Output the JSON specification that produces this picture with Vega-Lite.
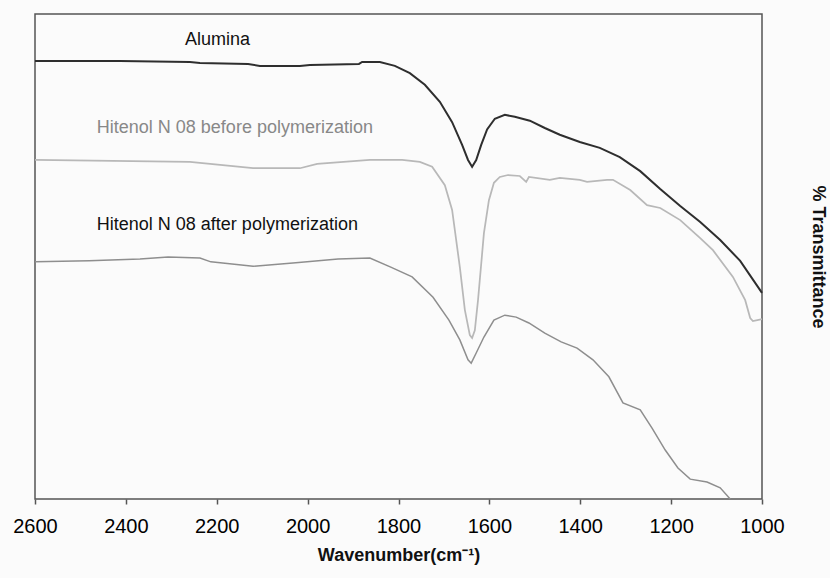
{
  "$schema": "https://vega.github.io/schema/vega-lite/v6.json",
  "width": 727,
  "height": 485,
  "autosize": {"type": "none"},
  "padding": {"left": 35, "top": 14, "right": 68, "bottom": 79},
  "background": "#fbfbfb",
  "config": {
    "font": "Liberation Sans",
    "view": {"stroke": "#555555", "strokeWidth": 1.5}
  },
  "datasets": {
    "spectra": [
      {"series": "Alumina", "wn": 2600, "T": 90.3},
      {"series": "Alumina", "wn": 2413, "T": 90.3},
      {"series": "Alumina", "wn": 2259, "T": 90.1},
      {"series": "Alumina", "wn": 2237, "T": 89.9},
      {"series": "Alumina", "wn": 2131, "T": 89.7},
      {"series": "Alumina", "wn": 2105, "T": 89.3},
      {"series": "Alumina", "wn": 2017, "T": 89.3},
      {"series": "Alumina", "wn": 1995, "T": 89.5},
      {"series": "Alumina", "wn": 1887, "T": 89.7},
      {"series": "Alumina", "wn": 1880, "T": 90.1},
      {"series": "Alumina", "wn": 1841, "T": 90.1},
      {"series": "Alumina", "wn": 1808, "T": 89.3},
      {"series": "Alumina", "wn": 1775, "T": 87.8},
      {"series": "Alumina", "wn": 1742, "T": 85.4},
      {"series": "Alumina", "wn": 1709, "T": 81.9},
      {"series": "Alumina", "wn": 1682, "T": 77.7},
      {"series": "Alumina", "wn": 1660, "T": 73.0},
      {"series": "Alumina", "wn": 1647, "T": 69.9},
      {"series": "Alumina", "wn": 1638, "T": 68.5},
      {"series": "Alumina", "wn": 1629, "T": 69.9},
      {"series": "Alumina", "wn": 1618, "T": 73.0},
      {"series": "Alumina", "wn": 1605, "T": 76.2},
      {"series": "Alumina", "wn": 1588, "T": 78.4},
      {"series": "Alumina", "wn": 1566, "T": 79.2},
      {"series": "Alumina", "wn": 1544, "T": 78.8},
      {"series": "Alumina", "wn": 1511, "T": 78.0},
      {"series": "Alumina", "wn": 1478, "T": 76.5},
      {"series": "Alumina", "wn": 1445, "T": 75.1},
      {"series": "Alumina", "wn": 1401, "T": 73.6},
      {"series": "Alumina", "wn": 1357, "T": 72.4},
      {"series": "Alumina", "wn": 1313, "T": 70.5},
      {"series": "Alumina", "wn": 1268, "T": 67.6},
      {"series": "Alumina", "wn": 1224, "T": 63.9},
      {"series": "Alumina", "wn": 1180, "T": 60.4},
      {"series": "Alumina", "wn": 1136, "T": 57.1},
      {"series": "Alumina", "wn": 1092, "T": 53.4},
      {"series": "Alumina", "wn": 1048, "T": 49.1},
      {"series": "Alumina", "wn": 1000, "T": 42.5},
      {"series": "Before", "wn": 2600, "T": 69.9},
      {"series": "Before", "wn": 2259, "T": 69.5},
      {"series": "Before", "wn": 2237, "T": 69.3},
      {"series": "Before", "wn": 2120, "T": 68.2},
      {"series": "Before", "wn": 2017, "T": 68.2},
      {"series": "Before", "wn": 1979, "T": 69.1},
      {"series": "Before", "wn": 1863, "T": 69.9},
      {"series": "Before", "wn": 1792, "T": 69.9},
      {"series": "Before", "wn": 1753, "T": 69.5},
      {"series": "Before", "wn": 1726, "T": 68.5},
      {"series": "Before", "wn": 1698, "T": 64.7},
      {"series": "Before", "wn": 1682, "T": 59.6},
      {"series": "Before", "wn": 1665, "T": 47.8},
      {"series": "Before", "wn": 1654, "T": 39.0},
      {"series": "Before", "wn": 1643, "T": 33.8},
      {"series": "Before", "wn": 1638, "T": 33.2},
      {"series": "Before", "wn": 1632, "T": 34.8},
      {"series": "Before", "wn": 1625, "T": 41.0},
      {"series": "Before", "wn": 1612, "T": 54.8},
      {"series": "Before", "wn": 1601, "T": 61.6},
      {"series": "Before", "wn": 1590, "T": 65.2},
      {"series": "Before", "wn": 1577, "T": 66.4},
      {"series": "Before", "wn": 1559, "T": 66.8},
      {"series": "Before", "wn": 1533, "T": 66.6},
      {"series": "Before", "wn": 1519, "T": 65.4},
      {"series": "Before", "wn": 1513, "T": 66.4},
      {"series": "Before", "wn": 1467, "T": 65.8},
      {"series": "Before", "wn": 1445, "T": 66.2},
      {"series": "Before", "wn": 1401, "T": 65.8},
      {"series": "Before", "wn": 1385, "T": 65.4},
      {"series": "Before", "wn": 1341, "T": 65.8},
      {"series": "Before", "wn": 1328, "T": 65.8},
      {"series": "Before", "wn": 1290, "T": 63.7},
      {"series": "Before", "wn": 1253, "T": 60.6},
      {"series": "Before", "wn": 1224, "T": 60.0},
      {"series": "Before", "wn": 1180, "T": 57.5},
      {"series": "Before", "wn": 1136, "T": 53.8},
      {"series": "Before", "wn": 1108, "T": 51.3},
      {"series": "Before", "wn": 1064, "T": 45.8},
      {"series": "Before", "wn": 1037, "T": 41.0},
      {"series": "Before", "wn": 1026, "T": 37.3},
      {"series": "Before", "wn": 1020, "T": 36.7},
      {"series": "Before", "wn": 1000, "T": 37.1},
      {"series": "After", "wn": 2600, "T": 48.9},
      {"series": "After", "wn": 2481, "T": 49.1},
      {"series": "After", "wn": 2369, "T": 49.5},
      {"series": "After", "wn": 2307, "T": 49.9},
      {"series": "After", "wn": 2237, "T": 49.7},
      {"series": "After", "wn": 2213, "T": 48.9},
      {"series": "After", "wn": 2120, "T": 48.0},
      {"series": "After", "wn": 2026, "T": 48.7},
      {"series": "After", "wn": 1933, "T": 49.5},
      {"series": "After", "wn": 1863, "T": 49.7},
      {"series": "After", "wn": 1817, "T": 47.8},
      {"series": "After", "wn": 1770, "T": 45.8},
      {"series": "After", "wn": 1724, "T": 41.6},
      {"series": "After", "wn": 1689, "T": 36.9},
      {"series": "After", "wn": 1665, "T": 32.8},
      {"series": "After", "wn": 1647, "T": 28.7},
      {"series": "After", "wn": 1640, "T": 28.0},
      {"series": "After", "wn": 1629, "T": 30.1},
      {"series": "After", "wn": 1612, "T": 33.4},
      {"series": "After", "wn": 1590, "T": 36.9},
      {"series": "After", "wn": 1566, "T": 37.9},
      {"series": "After", "wn": 1541, "T": 37.5},
      {"series": "After", "wn": 1513, "T": 36.3},
      {"series": "After", "wn": 1478, "T": 34.2},
      {"series": "After", "wn": 1442, "T": 32.4},
      {"series": "After", "wn": 1407, "T": 31.1},
      {"series": "After", "wn": 1372, "T": 28.7},
      {"series": "After", "wn": 1337, "T": 25.2},
      {"series": "After", "wn": 1306, "T": 19.8},
      {"series": "After", "wn": 1268, "T": 18.4},
      {"series": "After", "wn": 1242, "T": 14.6},
      {"series": "After", "wn": 1213, "T": 10.1},
      {"series": "After", "wn": 1185, "T": 6.4},
      {"series": "After", "wn": 1158, "T": 4.1},
      {"series": "After", "wn": 1121, "T": 3.5},
      {"series": "After", "wn": 1092, "T": 2.3},
      {"series": "After", "wn": 1070, "T": 0}
    ],
    "labels": [
      {"label": "Alumina", "wn": 2270, "T": 94.6},
      {"label": "Hitenol N 08 before polymerization", "wn": 2464, "T": 76.5},
      {"label": "Hitenol N 08 after polymerization", "wn": 2464, "T": 56.5}
    ]
  },
  "layer": [
    {
      "data": {"name": "spectra"},
      "mark": {"type": "line", "interpolate": "linear"},
      "encoding": {
        "x": {
          "field": "wn", "type": "quantitative",
          "scale": {"domain": [1000, 2600], "reverse": true, "nice": false},
          "axis": {
            "values": [2600, 2400, 2200, 2000, 1800, 1600, 1400, 1200, 1000],
            "format": "d",
            "grid": false, "domain": false,
            "tickSize": 5, "tickColor": "#555555", "tickWidth": 1.5,
            "labelFontSize": 20, "labelColor": "#000000", "labelPadding": 12,
            "labelFlush": false,
            "title": "Wavenumber(cm⁻¹)",
            "titleFontSize": 18, "titleFontWeight": "bold", "titleColor": "#111111",
            "titlePadding": 10
          }
        },
        "y": {
          "field": "T", "type": "quantitative",
          "scale": {"domain": [0, 100], "nice": false},
          "axis": {
            "orient": "right", "labels": false, "ticks": false, "domain": false, "grid": false,
            "title": "% Transmittance",
            "titleFontSize": 18, "titleFontWeight": "bold", "titleColor": "#111111",
            "titleAngle": 90, "titlePadding": 46
          }
        },
        "color": {
          "field": "series", "type": "nominal",
          "scale": {"domain": ["Alumina", "Before", "After"], "range": ["#2e2e2e", "#b8b8b8", "#8e8e8e"]},
          "legend": null
        },
        "strokeWidth": {
          "field": "series", "type": "nominal",
          "scale": {"domain": ["Alumina", "Before", "After"], "range": [2, 1.5, 1.5]},
          "legend": null
        }
      }
    },
    {
      "data": {"name": "labels"},
      "mark": {"type": "text", "align": "left", "baseline": "middle", "fontSize": 18},
      "encoding": {
        "x": {"field": "wn", "type": "quantitative"},
        "y": {"field": "T", "type": "quantitative"},
        "text": {"field": "label"},
        "color": {
          "field": "label", "type": "nominal",
          "scale": {"domain": ["Alumina", "Hitenol N 08 before polymerization", "Hitenol N 08 after polymerization"], "range": ["#111111", "#888888", "#111111"]},
          "legend": null
        }
      }
    }
  ],
  "resolve": {"scale": {"color": "independent"}}
}
